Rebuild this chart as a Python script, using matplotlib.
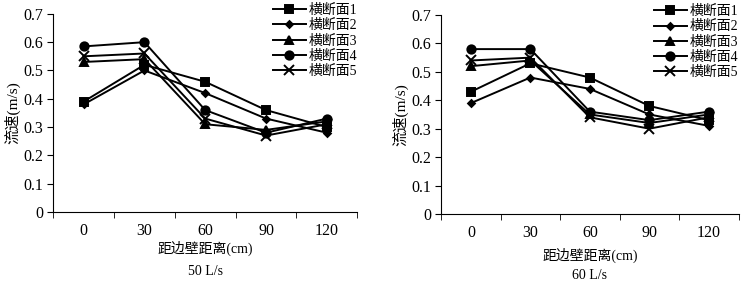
import numpy as np
import matplotlib.pyplot as plt

plt.rcParams['font.family'] = ['Liberation Serif', 'Noto Sans CJK SC']
plt.rcParams['font.size'] = 10

cats = ['0', '30', '60', '90', '120']
names = ['横断面1', '横断面2', '横断面3', '横断面4', '横断面5']
markers = ['s', 'D', '^', 'o', 'x']
msizes = [5.5, 3.5, 5.5, 6, 6.5]

# 50 L/s
v50_1 = [0.39, 0.52, 0.46, 0.36, 0.30]
v50_2 = [0.38, 0.50, 0.42, 0.33, 0.28]
v50_3 = [0.53, 0.54, 0.31, 0.29, 0.32]
v50_4 = [0.585, 0.60, 0.36, 0.28, 0.33]
v50_5 = [0.55, 0.56, 0.33, 0.27, 0.31]

# 60 L/s
v60_1 = [0.43, 0.53, 0.48, 0.38, 0.33]
v60_2 = [0.39, 0.48, 0.44, 0.35, 0.31]
v60_3 = [0.52, 0.54, 0.35, 0.32, 0.35]
v60_4 = [0.58, 0.58, 0.36, 0.33, 0.36]
v60_5 = [0.54, 0.55, 0.34, 0.30, 0.34]

panels = [
    ('50 L/s', [v50_1, v50_2, v50_3, v50_4, v50_5]),
    ('60 L/s', [v60_1, v60_2, v60_3, v60_4, v60_5]),
]

fig = plt.figure(figsize=(7.49, 2.83), dpi=100)
axes_pos = [[0.071, 0.251, 0.406, 0.70], [0.589, 0.244, 0.397, 0.703]]
title_y = [0.039, 0.026]
xlab_pad = [1, 5]

x = np.arange(len(cats))
for (title, series), pos, ty, lp in zip(panels, axes_pos, title_y, xlab_pad):
    ax = fig.add_axes(pos)
    for vals, nm, mk, ms in zip(series, names, markers, msizes):
        ax.plot(x, vals, color='black', lw=1.4, marker=mk, ms=ms,
                mew=1.4, label=nm)
    ax.set_xlim(-0.5, 4.5)
    ax.set_ylim(0, 0.7)
    ax.set_yticks(np.arange(0, 0.71, 0.1))
    ax.set_yticklabels(['0', '0.1', '0.2', '0.3', '0.4', '0.5', '0.6', '0.7'])
    ax.set_xticks(x)
    ax.set_xticklabels(cats)
    ax.tick_params(axis='x', length=0, pad=8, labelsize=11.5)
    ax.set_xticks(np.arange(-0.5, 4.6, 1), minor=True)
    ax.tick_params(axis='x', which='minor', length=4, direction='out')
    ax.tick_params(axis='y', length=4, direction='out', pad=3, labelsize=11.5)
    ax.spines['top'].set_visible(False)
    ax.spines['right'].set_visible(False)
    ax.set_xlabel('距边壁距离(cm)', labelpad=lp)
    ax.set_ylabel('流速(m/s)', labelpad=2, fontsize=11)
    fig.text(pos[0] + pos[2] / 2, ty, title, ha='center', va='center')
    ax.legend(loc='upper right', bbox_to_anchor=(1.0, 1.05), frameon=False,
              handlelength=2.4, handletextpad=0.2, labelspacing=0.15,
              borderpad=0, borderaxespad=0)

fig.savefig('out.png', dpi=100)
